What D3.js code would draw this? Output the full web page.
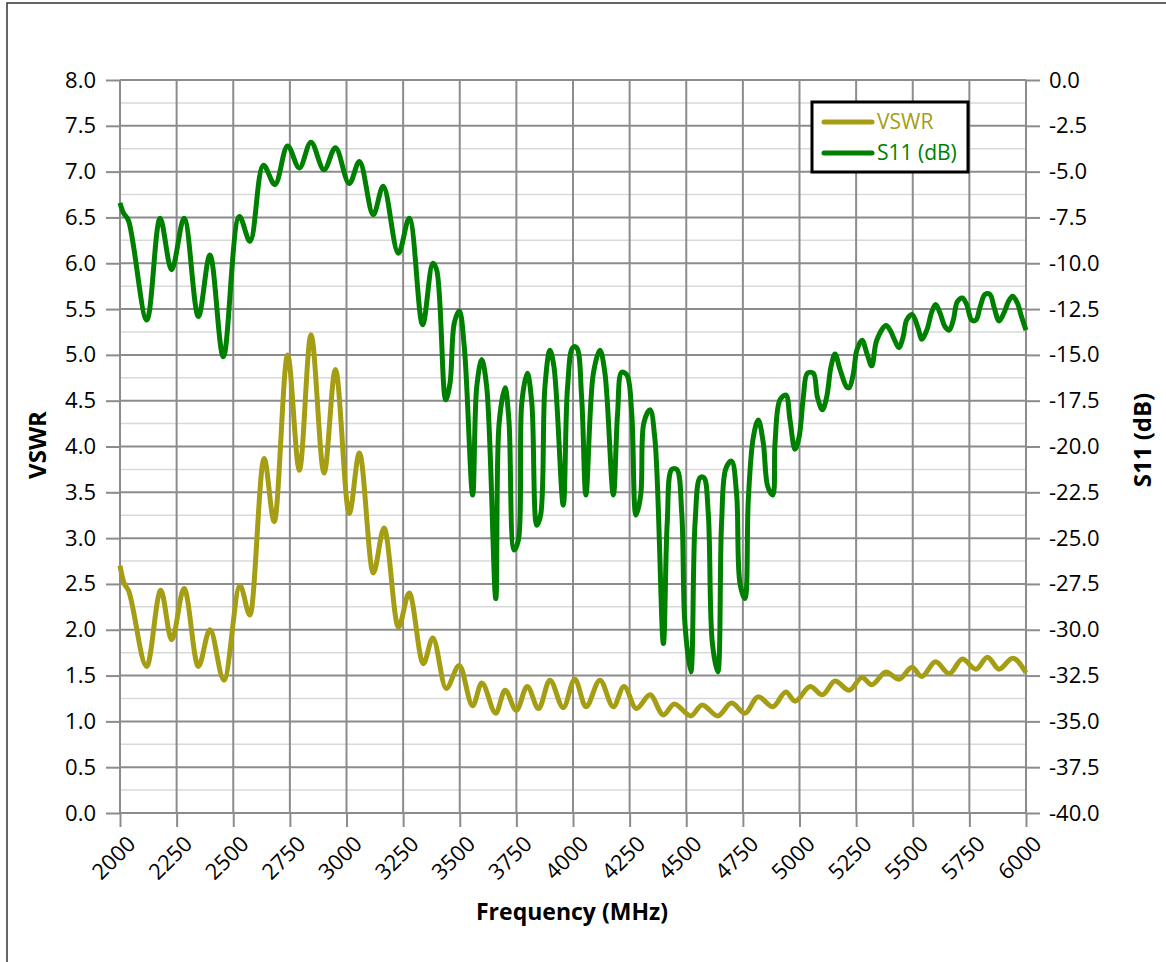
<!DOCTYPE html>
<html>
<head>
<meta charset="utf-8">
<script src="https://cdn.jsdelivr.net/npm/d3@7"></script>
<style>
  body { margin: 0; background: #fff; }
  svg { display: block; }
  text { font-family: "Open Sans", "Noto Sans", sans-serif; fill: #000; }
</style>
</head>
<body>
<svg id="chart" width="1166" height="962"></svg>
<script>
// VSWR readings (MHz, ratio)
var vswrFreq = [2000, 2015, 2037, 2118, 2180, 2228, 2283, 2346, 2397, 2459, 2530, 2574, 2636, 2681, 2740, 2792, 2843, 2901, 2951, 3012, 3057, 3118, 3166, 3229, 3277, 3339, 3381, 3440, 3498, 3557, 3597, 3659, 3700, 3750, 3798, 3848, 3898, 3957, 4008, 4057, 4119, 4178, 4225, 4280, 4340, 4399, 4447, 4520, 4570, 4639, 4700, 4759, 4818, 4882, 4940, 4980, 5048, 5101, 5157, 5219, 5276, 5319, 5382, 5439, 5497, 5539, 5601, 5661, 5719, 5779, 5830, 5881, 5941, 6000];
var vswrVal  = [2.70, 2.53, 2.43, 1.60, 2.43, 1.89, 2.45, 1.60, 2.00, 1.45, 2.48, 2.16, 3.87, 3.18, 5.00, 3.74, 5.22, 3.71, 4.84, 3.27, 3.93, 2.62, 3.11, 2.03, 2.40, 1.63, 1.91, 1.36, 1.61, 1.17, 1.42, 1.09, 1.34, 1.12, 1.38, 1.14, 1.45, 1.15, 1.46, 1.16, 1.45, 1.16, 1.38, 1.14, 1.29, 1.07, 1.19, 1.06, 1.18, 1.06, 1.20, 1.09, 1.27, 1.16, 1.32, 1.22, 1.38, 1.29, 1.44, 1.34, 1.48, 1.40, 1.54, 1.46, 1.59, 1.49, 1.65, 1.52, 1.68, 1.57, 1.70, 1.57, 1.69, 1.53];

// S11 readings (MHz, dB)
var s11Freq = [2000, 2015, 2037, 2118, 2177, 2228, 2283, 2346, 2397, 2456, 2527, 2574, 2633, 2684, 2740, 2792, 2843, 2901, 2951, 3012, 3057, 3118, 3162, 3229, 3277, 3336, 3381, 3398, 3438, 3457, 3476, 3498, 3520, 3557, 3575, 3597, 3619, 3659, 3674, 3700, 3717, 3740, 3759, 3774, 3798, 3818, 3840, 3857, 3876, 3898, 3916, 3957, 3976, 3999, 4016, 4038, 4057, 4090, 4119, 4141, 4178, 4197, 4215, 4238, 4259, 4278, 4299, 4313, 4340, 4362, 4399, 4416, 4436, 4458, 4480, 4494, 4520, 4539, 4561, 4578, 4597, 4615, 4639, 4656, 4675, 4700, 4722, 4737, 4759, 4774, 4796, 4818, 4840, 4860, 4882, 4892, 4914, 4940, 4958, 4980, 4998, 5017, 5035, 5061, 5079, 5101, 5120, 5139, 5157, 5179, 5208, 5219, 5238, 5253, 5276, 5297, 5319, 5341, 5382, 5400, 5422, 5439, 5458, 5473, 5497, 5524, 5539, 5562, 5584, 5601, 5620, 5642, 5661, 5679, 5697, 5719, 5738, 5760, 5779, 5797, 5819, 5841, 5859, 5881, 5903, 5922, 5941, 5961, 5981, 6000];
var s11Val  = [-6.7, -7.25, -7.65, -13.1, -7.55, -10.35, -7.55, -12.9, -9.55, -15.1, -7.45, -8.8, -4.65, -5.7, -3.6, -4.8, -3.4, -4.9, -3.7, -5.65, -4.45, -7.35, -5.8, -9.45, -7.55, -13.35, -10.0, -10.35, -17.45, -16.55, -13.25, -12.6, -14.55, -22.65, -16.75, -15.25, -16.75, -28.3, -18.7, -16.8, -18.55, -25.65, -25.1, -17.6, -16.0, -17.6, -24.3, -23.75, -16.75, -14.75, -15.65, -23.2, -16.75, -14.6, -14.6, -17.3, -22.65, -16.0, -14.75, -16.0, -22.65, -18.15, -15.95, -16.1, -18.15, -23.75, -22.65, -18.7, -18.0, -19.65, -30.75, -24.15, -21.25, -21.25, -23.6, -29.65, -32.3, -24.15, -21.7, -21.7, -23.6, -30.7, -32.3, -24.15, -21.2, -20.8, -22.55, -27.45, -28.3, -22.9, -19.5, -18.55, -19.8, -22.2, -22.65, -19.8, -17.45, -17.2, -18.55, -20.15, -19.5, -17.3, -16.0, -16.0, -17.3, -18.0, -17.3, -15.65, -14.95, -15.8, -16.75, -16.8, -16.0, -14.75, -14.2, -14.9, -15.6, -14.2, -13.4, -13.65, -14.25, -14.6, -14.0, -13.1, -12.8, -13.55, -14.15, -13.65, -12.65, -12.25, -12.7, -13.45, -13.65, -13.1, -12.1, -11.9, -12.25, -13.1, -13.1, -12.4, -11.7, -11.7, -12.4, -13.15, -12.7, -12.1, -11.8, -12.15, -12.95, -13.65];

var xTicks = [2000, 2250, 2500, 2750, 3000, 3250, 3500, 3750, 4000, 4250, 4500, 4750, 5000, 5250, 5500, 5750, 6000];
var leftTicks = [0, 0.5, 1, 1.5, 2, 2.5, 3, 3.5, 4, 4.5, 5, 5.5, 6, 6.5, 7, 7.5, 8];
var rightTicks = [-40, -37.5, -35, -32.5, -30, -27.5, -25, -22.5, -20, -17.5, -15, -12.5, -10, -7.5, -5, -2.5, 0];

var seriesNames = ["VSWR", "S11 (dB)"];
var colVswr = "#a59e14", colS11 = "#008000";

var svg = d3.select("#chart");
var pL = 120, pR = 1026, pT = 80, pB = 813;

// outer frame (runs off the bottom/right edge like the original)
svg.append("rect")
    .attr("x", 7).attr("y", 3).attr("width", 1200).attr("height", 1000)
    .attr("fill", "none").attr("stroke", "#333").attr("stroke-width", 1.5);

var x = d3.scaleLinear().domain([2000, 6000]).range([pL, pR]);
var yL = d3.scaleLinear().domain([0, 8]).range([pB, pT]);
var yR = d3.scaleLinear().domain([-40, 0]).range([pB, pT]);

// minor horizontal grid
var minor = d3.range(0.25, 8, 0.5);
svg.append("g").selectAll("line").data(minor).enter().append("line")
    .attr("x1", pL).attr("x2", pR)
    .attr("y1", d => yL(d)).attr("y2", d => yL(d))
    .attr("stroke", "#d9d9d9").attr("stroke-width", 1.5);

// major grid
svg.append("g").selectAll("line").data(leftTicks).enter().append("line")
    .attr("x1", pL).attr("x2", pR)
    .attr("y1", d => yL(d)).attr("y2", d => yL(d))
    .attr("stroke", "#8c8c8c").attr("stroke-width", 2);
svg.append("g").selectAll("line").data(xTicks).enter().append("line")
    .attr("x1", d => x(d)).attr("x2", d => x(d))
    .attr("y1", pT).attr("y2", pB)
    .attr("stroke", "#8c8c8c").attr("stroke-width", 2);

// axes (plain hyphen for negatives, like the original)
var fmt1 = d => d.toFixed(1);
var axL = d3.axisLeft(yL).tickValues(leftTicks).tickFormat(fmt1).tickSize(14).tickPadding(10);
var axR = d3.axisRight(yR).tickValues(rightTicks).tickFormat(fmt1).tickSize(14).tickPadding(9);
var axB = d3.axisBottom(x).tickValues(xTicks).tickFormat(d3.format("d")).tickSize(14).tickPadding(4);

function styleAxis(g) {
    g.select(".domain").remove();
    g.selectAll(".tick line").attr("stroke", "#8c8c8c").attr("stroke-width", 2);
    g.selectAll(".tick text").style("font-size", "22px").attr("fill", "#000");
}
svg.append("g").attr("transform", "translate(" + pL + ",0)").call(axL).call(styleAxis);
svg.append("g").attr("transform", "translate(" + pR + ",0)").call(axR).call(styleAxis);
var gB = svg.append("g").attr("transform", "translate(0," + pB + ")").call(axB).call(styleAxis);
gB.selectAll(".tick text")
    .attr("x", 0).attr("y", 0)
    .attr("text-anchor", "end")
    .attr("dy", "0.35em")
    .attr("transform", "translate(11,27) rotate(-45)");

// series
var lineV = d3.line().x(d => x(d[0])).y(d => yL(d[1])).curve(d3.curveMonotoneX);
var lineS = d3.line().x(d => x(d[0])).y(d => yR(d[1])).curve(d3.curveCatmullRom.alpha(0.5));

svg.append("path")
    .datum(vswrFreq.map((f, i) => [f, vswrVal[i]]))
    .attr("d", lineV).attr("fill", "none")
    .attr("stroke", colVswr).attr("stroke-width", 5).attr("stroke-linejoin", "round");
svg.append("path")
    .datum(s11Freq.map((f, i) => [f, s11Val[i]]))
    .attr("d", lineS).attr("fill", "none")
    .attr("stroke", colS11).attr("stroke-width", 5).attr("stroke-linejoin", "round");

// axis titles
svg.append("text")
    .attr("transform", "translate(46,445) rotate(-90)")
    .attr("text-anchor", "middle")
    .style("font-size", "24px").style("font-weight", "bold")
    .text("VSWR");
svg.append("text")
    .attr("transform", "translate(1151,440) rotate(-90)")
    .attr("text-anchor", "middle")
    .style("font-size", "24px").style("font-weight", "bold")
    .text("S11 (dB)");
svg.append("text")
    .attr("x", 572).attr("y", 920)
    .attr("text-anchor", "middle")
    .style("font-size", "23px").style("font-weight", "bold")
    .text("Frequency (MHz)");

// legend
var lg = svg.append("g");
lg.append("rect").attr("x", 812).attr("y", 102).attr("width", 156).attr("height", 70)
    .attr("fill", "#fff").attr("stroke", "#000").attr("stroke-width", 3);
var lgCols = [colVswr, colS11];
seriesNames.forEach(function(name, i) {
    var yy = 122 + i * 31;
    lg.append("line").attr("x1", 824).attr("x2", 872).attr("y1", yy).attr("y2", yy)
        .attr("stroke", lgCols[i]).attr("stroke-width", 5).attr("stroke-linecap", "round");
    lg.append("text").attr("x", 877).attr("y", yy).attr("dy", "0.35em")
        .style("font-size", "21px").style("fill", lgCols[i]).text(name);
});
</script>
</body>
</html>
